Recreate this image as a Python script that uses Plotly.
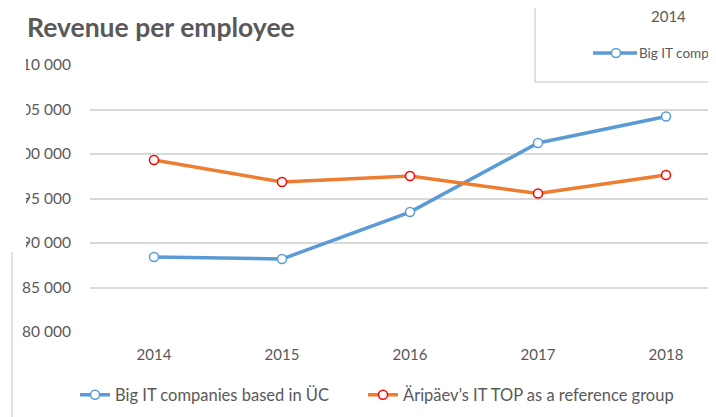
import plotly.graph_objects as go

years = ["2014", "2015", "2016", "2017", "2018"]
big_it = [88430, 88200, 93480, 101240, 104210]
aripaev = [99330, 96850, 97530, 95560, 97640]
y_ticks = [80000, 85000, 90000, 95000, 100000, 105000, 110000]
y_tick_text = ["80 000", "85 000", "90 000", "95 000", "100 000", "105 000", "110 000"]
series_names = ["Big IT companies based in ÜC", "Äripäev’s IT TOP as a reference group"]

OFF = 8  # page body margin
W, H = 716 - OFF, 417 - OFF
L, T, B = 90 - OFF, 65 - OFF, 332 - OFF
PW, PH = W - L, B - T
FONT = "Lato"
TXT = "#595959"
BLUE = "#5B9BD5"
ORANGE = "#ED7D31"


def px(x):
    return (x - OFF - L) / PW


def py(y):
    return (B - (y - OFF)) / PH


fig = go.Figure()
fig.add_trace(go.Scatter(
    x=years, y=big_it, name=series_names[0], mode="lines+markers",
    line=dict(color=BLUE, width=3.5), legend="legend",
    marker=dict(symbol="circle", size=9, color="white", line=dict(color=BLUE, width=1.5)),
))
fig.add_trace(go.Scatter(
    x=years, y=aripaev, name=series_names[1], mode="lines+markers",
    line=dict(color=ORANGE, width=3.5), legend="legend2",
    marker=dict(symbol="circle", size=9, color="white", line=dict(color="#FF0000", width=1.5)),
))

shapes = [
    dict(type="rect", xref="paper", yref="paper", x0=px(-5), x1=px(26), y0=py(251), y1=py(-5),
         fillcolor="white", line=dict(width=0), layer="above"),
    dict(type="line", xref="paper", yref="paper", x0=px(12), x1=px(12), y0=py(252), y1=py(420),
         line=dict(color="#D9D9D9", width=1.5), layer="above"),
    dict(type="rect", xref="paper", yref="paper", x0=px(535), x1=px(730), y0=py(82), y1=py(-10),
         fillcolor="white", line=dict(color="#D9D9D9", width=1.5), layer="above"),
    dict(type="line", xref="paper", yref="paper", x0=px(593), x1=px(637), y0=py(53), y1=py(53),
         line=dict(color=BLUE, width=3.5), layer="above"),
    dict(type="circle", xref="paper", yref="paper", x0=px(611.5), x1=px(620.5), y0=py(57.5), y1=py(48.5),
         fillcolor="white", line=dict(color=BLUE, width=1.5), layer="above"),
]

annotations = [
    dict(text="<b>Revenue per employee</b>", xref="paper", yref="paper", x=px(25), y=py(27),
         xanchor="left", yanchor="middle", showarrow=False,
         font=dict(family=FONT, size=26.5, color=TXT)),
    dict(text="2014", xref="paper", yref="paper", x=px(668), y=py(16),
         xanchor="center", yanchor="middle", showarrow=False,
         font=dict(family=FONT, size=15, color=TXT)),
    dict(text="Big IT comp", xref="paper", yref="paper", x=px(637), y=py(53),
         xanchor="left", yanchor="middle", showarrow=False,
         font=dict(family=FONT, size=13.5, color=TXT)),
]

legend_common = dict(orientation="h", yanchor="middle", xanchor="left",
                     font=dict(family=FONT, size=16.5, color=TXT), itemwidth=30,
                     bgcolor="rgba(0,0,0,0)")

fig.update_layout(
    width=W, height=H, autosize=False,
    margin=dict(l=L, r=0, t=T, b=H - B, pad=0),
    paper_bgcolor="white", plot_bgcolor="white",
    font=dict(family=FONT, color=TXT, size=16.5),
    showlegend=True,
    legend=dict(x=px(75), y=py(395), **legend_common),
    legend2=dict(x=px(363), y=py(395), **legend_common),
    shapes=shapes, annotations=annotations,
    hovermode=False,
)
fig.update_xaxes(
    type="category", range=[-0.5, -0.5 + PW / 128], showgrid=False, zeroline=False,
    showline=False, ticks="", ticklabelstandoff=12, automargin=False,
    tickfont=dict(family=FONT, size=15, color=TXT),
)
fig.update_yaxes(
    range=[80000, 110000], tickvals=y_ticks, ticktext=y_tick_text,
    showgrid=True, gridcolor="#D9D9D9", gridwidth=1.5, zeroline=False, showline=False,
    ticks="", ticklabelstandoff=18, automargin=False,
    tickfont=dict(family=FONT, size=15.5, color=TXT),
)

fig.write_html("out.html")
